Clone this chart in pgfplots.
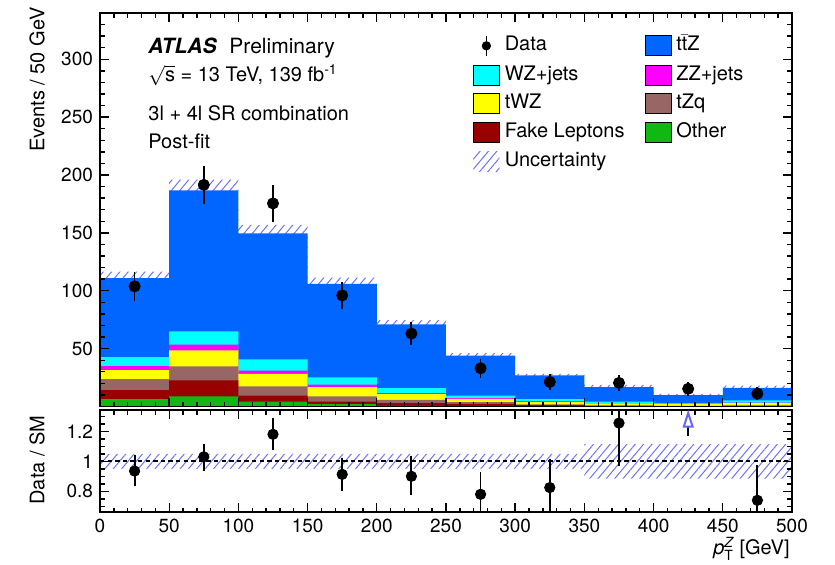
\documentclass[border=0pt]{standalone}
\usepackage{fontspec}
\setmainfont{TeX Gyre Heros}
\usepackage{pgfplots}
\usepackage{pgfplotstable}
\pgfplotsset{compat=1.18}
\usetikzlibrary{patterns.meta}

\definecolor{ttzc}{HTML}{0066FF}
\definecolor{wzc}{HTML}{00FFFF}
\definecolor{zzc}{HTML}{FF00FF}
\definecolor{twzc}{HTML}{FFFF00}
\definecolor{tzqc}{HTML}{996666}
\definecolor{fakec}{HTML}{990000}
\definecolor{otherc}{HTML}{12B812}
\definecolor{hatchc}{HTML}{7070FF}

\newcommand\fs[1]{\fontsize{#1}{#1}\selectfont}

% post-fit yields per 50 GeV bin (last row repeats the last bin to close the step)
\pgfplotstableread{
lo  other fake tzq  twz  zz  wz   ttz   unc
0   6.3   7.8  9.5  7.8  3.5 7.7  68.4  0.05
50  8.7   13.8 12.1 13.8 5.0 11.5 121.9 0.05
100 4.3   5.2  7.8  11.0 2.8 9.6  108.8 0.05
150 2.0   2.3  4.4  8.0  2.1 6.3  80.9  0.05
200 0.5   2.4  2.9  4.8  0.9 4.3  55.2  0.05
250 0.3   2.0  1.4  3.0  0.6 2.0  34.7  0.05
300 0.3   0.8  0.8  2.2  0.6 1.6  20.5  0.05
350 0.2   0.3  0.4  1.8  0.3 1.2  12.5  0.115
400 0.1   0.2  0.3  1.6  0.2 0.6  6.8   0.115
450 0.2   0.3  0.4  2.0  0.4 1.9  11.0  0.115
500 0.2   0.3  0.4  2.0  0.4 1.9  11.0  0.115
}\stack

\pgfplotstableread{
x   y     e
25  103.8 10
75  191.5 14
125 175.5 13.5
175 96    9.5
225 63    8
275 33    6
325 21.2  4.6
375 20.4  4.5
425 15.3  3.9
475 11.1  3.3
}\data

\pgfplotstableread{
x   y     ep    em
25  0.935 0.09  0.085
75  1.03  0.07  0.08
125 1.18  0.09  0.09
175 0.913 0.095 0.095
225 0.90  0.12  0.11
275 0.78  0.13  0.12
325 0.825 0.175 0.165
375 1.255 0.085 0.27
475 0.74  0.215 0.08
}\ratio

\tikzset{hatch/.style={pattern={Lines[angle=50,distance=3.2pt,line width=0.5pt]}, pattern color=hatchc, draw=none}}

\pgfplotsset{
  atlas/.style={
    scale only axis, width=346pt,
    xmin=0, xmax=500,
    xtick={0,50,...,500}, minor xtick={10,20,...,490},
    tick align=inside, xtick pos=both, ytick pos=both,
    major tick length=4.5pt, minor tick length=2.3pt,
    axis line style={line width=0.9pt},
    every tick/.style={black, line width=0.7pt},
    axis on top,
    ticklabel style={font=\fs{9.5}},
    /pgf/number format/assume math mode=true,
  },
  boxleg/.style={legend image code/.code={\fill (0pt,-5pt) rectangle (13pt,5pt);}},
}

\begin{document}
\begin{tikzpicture}
\useasboundingbox (0,0) rectangle (417.5pt,282pt);

\begin{axis}[atlas,
  at={(50pt,78.75pt)}, anchor=south west, height=196.75pt,
  ymin=0, ymax=340,
  ytick={0,50,...,300}, yticklabels={,50,100,150,200,250,300},
  minor ytick={10,20,...,340},
  xticklabels={},
  legend style={at={(0.539,0.944)}, anchor=north west, draw=none, fill=none,
    font=\fs{10}, legend columns=2, inner sep=0pt, outer sep=0pt,
    nodes={inner sep=0pt, text height=7.5pt, text depth=2.5pt, anchor=west},
    column sep=2.5pt, row sep=4pt,
    /tikz/every even column/.append style={column sep=10pt}},
  legend cell align=left,
]
% uncertainty band, drawn behind the stack
\addplot[hatch, const plot, forget plot] table[x=lo, y expr={(1+\thisrow{unc})*(\thisrow{other}+\thisrow{fake}+\thisrow{tzq}+\thisrow{twz}+\thisrow{zz}+\thisrow{wz}+\thisrow{ttz})}] {\stack} \closedcycle;
\addplot[fill=ttzc, draw=none, const plot, forget plot] table[x=lo, y expr={\thisrow{other}+\thisrow{fake}+\thisrow{tzq}+\thisrow{twz}+\thisrow{zz}+\thisrow{wz}+\thisrow{ttz}}] {\stack} \closedcycle;
\addplot[fill=wzc, draw=none, const plot, forget plot] table[x=lo, y expr={\thisrow{other}+\thisrow{fake}+\thisrow{tzq}+\thisrow{twz}+\thisrow{zz}+\thisrow{wz}}] {\stack} \closedcycle;
\addplot[fill=zzc, draw=none, const plot, forget plot] table[x=lo, y expr={\thisrow{other}+\thisrow{fake}+\thisrow{tzq}+\thisrow{twz}+\thisrow{zz}}] {\stack} \closedcycle;
\addplot[fill=twzc, draw=none, const plot, forget plot] table[x=lo, y expr={\thisrow{other}+\thisrow{fake}+\thisrow{tzq}+\thisrow{twz}}] {\stack} \closedcycle;
\addplot[fill=tzqc, draw=none, const plot, forget plot] table[x=lo, y expr={\thisrow{other}+\thisrow{fake}+\thisrow{tzq}}] {\stack} \closedcycle;
\addplot[fill=fakec, draw=none, const plot, forget plot] table[x=lo, y expr={\thisrow{other}+\thisrow{fake}}] {\stack} \closedcycle;
\addplot[fill=otherc, draw=none, const plot, forget plot] table[x=lo, y=other] {\stack} \closedcycle;

\addplot[only marks, mark=*, mark size=2.8pt, black, forget plot,
  error bars/.cd, y dir=both, y explicit,
  error bar style={line width=0.9pt}, error mark options={mark size=1.3pt, line width=0.9pt}]
  table[x=x, y=y, y error=e] {\data};

\addlegendimage{legend image code/.code={\draw[black, line width=0.8pt] (6.5pt,-5pt)--(6.5pt,5pt); \fill[black] (6.5pt,0pt) circle (2.1pt);}}
\addlegendentry{Data}
\addlegendimage{boxleg, fill=ttzc}\addlegendentry{t$\bar{\mbox{t}}$Z}
\addlegendimage{boxleg, fill=wzc}\addlegendentry{WZ+jets}
\addlegendimage{boxleg, fill=zzc}\addlegendentry{ZZ+jets}
\addlegendimage{boxleg, fill=twzc}\addlegendentry{tWZ}
\addlegendimage{boxleg, fill=tzqc}\addlegendentry{tZq}
\addlegendimage{boxleg, fill=fakec}\addlegendentry{Fake Leptons}
\addlegendimage{boxleg, fill=otherc}\addlegendentry{Other}
\addlegendimage{legend image code/.code={\fill[hatch] (0pt,-5pt) rectangle (13pt,5pt);}}
\addlegendentry{Uncertainty}
\end{axis}

\begin{axis}[atlas,
  at={(50pt,25.85pt)}, anchor=south west, height=51pt,
  ymin=0.66, ymax=1.34,
  ytick={0.8,1,1.2}, minor ytick={0.7,0.75,...,1.31},
]
% relative uncertainty band: hatch up to 1+unc, blanked below 1-unc
\addplot[hatch, const plot, forget plot] table[x=lo, y expr={1+\thisrow{unc}}] {\stack} \closedcycle;
\addplot[fill=white, draw=none, const plot, forget plot] table[x=lo, y expr={1-\thisrow{unc}}] {\stack} \closedcycle;
\addplot[black, line width=1pt, dash pattern=on 2.2pt off 1.6pt, forget plot] coordinates {(0,1) (500,1)};
\addplot[only marks, mark=*, mark size=2.6pt, black, forget plot,
  error bars/.cd, y dir=both, y explicit,
  error bar style={line width=0.9pt}, error mark options={mark size=1.3pt, line width=0.9pt}]
  table[x=x, y=y, y error plus=ep, y error minus=em] {\ratio};
% bin 400-450 is off scale: arrow
\addplot[black, line width=1pt, forget plot] coordinates {(425,1.17) (425,1.235)};
\addplot[only marks, mark=triangle, mark size=2.5pt, color=hatchc!90!blue, forget plot,
  mark options={line width=1pt, yscale=1.8}] coordinates {(425,1.262)};
\end{axis}

\node[rotate=90, anchor=east, inner sep=0pt] at (18.5pt,278.5pt) {\fs{10}Events / 50 GeV};
\node[rotate=90, inner sep=0pt] at (18.5pt,52pt) {\fs{10}Data / SM};
\node[anchor=east, inner sep=0pt] at (395pt,7.5pt) {\fs{10}$\mathit{p}_{\mathrm{T}}^{\mathit{Z}}$ [GeV]};

\node[anchor=west, inner sep=0pt] at (74pt,258pt) {\fs{10.5}\textbf{\textit{ATLAS}}\hspace{0.6em}Preliminary};
\node[anchor=west, inner sep=0pt] at (74pt,244.5pt) {\fs{10}$\sqrt{\mbox{s}}$ = 13 TeV, 139 fb\textsuperscript{-1}};
\node[anchor=west, inner sep=0pt] at (74pt,225.5pt) {\fs{10}3l + 4l SR combination};
\node[anchor=west, inner sep=0pt] at (74pt,211.5pt) {\fs{10}Post-fit};
\end{tikzpicture}
\end{document}
